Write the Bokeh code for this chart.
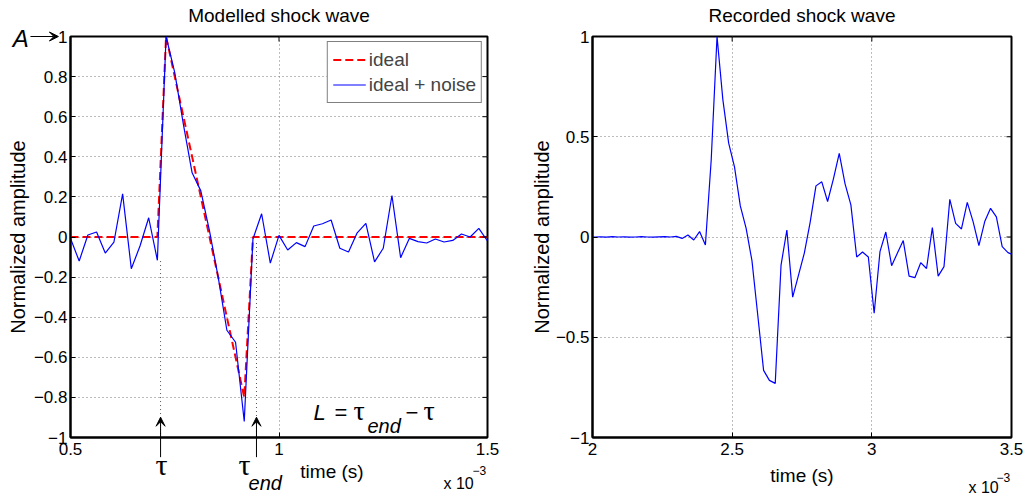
from bokeh.plotting import figure
from bokeh.layouts import row, column
from bokeh.models import (Range1d, FixedTicker, CustomJSTickFormatter, GridBox,
                          Label, Arrow, VeeHead, Legend, LegendItem)
from bokeh.embed import file_html
from bokeh.resources import INLINE

FS = 48000.0  # sampling rate (Hz)

# ---------------- data: modelled shock wave ----------------
model_samples = list(range(24, 73))          # sample indices (t = n / FS)
ideal = [0, 0, 0, 0, 0, 0, 0, 0, 0, 0, 0,
         1.0, 0.8, 0.6, 0.4, 0.2, 0.0, -0.2, -0.4, -0.6, -0.8,
         0, 0, 0, 0, 0, 0, 0, 0, 0, 0, 0, 0, 0, 0, 0, 0, 0, 0, 0, 0, 0, 0, 0, 0, 0, 0, 0, 0]
ideal_noise = [-0.007, -0.12, 0.01, 0.025, -0.08, -0.025, 0.215, -0.158, -0.045, 0.096, -0.116,
               1.0, 0.82, 0.56, 0.32, 0.23, 0.03, -0.2, -0.465, -0.525, -0.92,
               -0.01, 0.116, -0.13, 0.008, -0.065, -0.028, -0.048, 0.055, 0.066, 0.085,
               -0.056, -0.075, 0.021, 0.068, -0.124, -0.056, 0.207, -0.103, -0.007, -0.023,
               -0.03, -0.01, -0.025, -0.017, 0.015, 0.0, 0.043, -0.02]
tau = 0.716e-3
tau_end = 0.946e-3

# ---------------- data: recorded shock wave ----------------
rec_first_sample = 95.4
recorded = [0.0, 0.0, 0.001, -0.001, 0.002, 0.0, 0.001, -0.001, 0.0, 0.002, 0.0, -0.001,
            0.001, 0.002, 0.0, 0.003,
            -0.007, 0.01, -0.015, 0.027, -0.04,
            0.385, 1.0, 0.685, 0.468, 0.35, 0.155, 0.043, -0.118, -0.39, -0.665, -0.715,
            -0.73, -0.14, 0.035,
            -0.3, -0.19, -0.08, 0.073, 0.255, 0.275, 0.177, 0.29, 0.417, 0.265, 0.16,
            -0.1, -0.075, -0.1, -0.38, -0.073, 0.025, -0.143, -0.08, -0.018, -0.195,
            -0.203, -0.128, -0.157, 0.047, -0.195, -0.148, 0.188, 0.068, 0.04, 0.173,
            0.077, -0.043, 0.077, 0.143, 0.10, -0.048, -0.078, -0.09]

left_xrange = (0.5e-3, 1.5e-3)
right_xrange = (2.0e-3, 3.5e-3)
left_xticks = [0.5e-3, 1.0e-3, 1.5e-3]
left_yticks = [-1, -0.8, -0.6, -0.4, -0.2, 0, 0.2, 0.4, 0.6, 0.8, 1]
right_xticks = [2.0e-3, 2.5e-3, 3.0e-3, 3.5e-3]
right_yticks = [-1, -0.5, 0, 0.5, 1]

model_t = [n / FS for n in model_samples]
rec_t = [(rec_first_sample + i) / FS for i in range(len(recorded))]

FONT = "Liberation Sans"
SERIF = "Liberation Serif"
W, H = 1027, 499
TOP, BOTTOM = 36, 62
TICK = 5

yfmt_code = ("const v = Math.round(tick*10)/10; if (v === 0) return '0';"
             " return v < 0 ? '\\u2212' + String(-v) : String(v);")
xfmt_code = "const v = Math.round(tick*1e4)/10; return String(v);"


def make_fig(width, xr, xt, yt, bl, br, ylab_standoff):
    p = figure(width=width, height=H, x_range=Range1d(*xr), y_range=Range1d(-1, 1),
               output_backend="svg", toolbar_location=None, title=None,
               min_border_left=bl, min_border_right=br, min_border_top=TOP,
               min_border_bottom=BOTTOM)
    p.outline_line_color = "black"
    p.outline_line_width = 2

    xa = p.below[0]
    ya = p.left[0]
    xa.ticker = FixedTicker(ticks=xt)
    ya.ticker = FixedTicker(ticks=yt)
    xa.formatter = CustomJSTickFormatter(code=xfmt_code)
    ya.formatter = CustomJSTickFormatter(code=yfmt_code)
    for ax in (xa, ya):
        ax.major_label_text_font = FONT
        ax.major_label_text_font_size = "17px"
        ax.major_label_text_color = "black"
        ax.major_tick_in = TICK
        ax.major_tick_out = 0
        ax.minor_tick_line_color = None
        ax.axis_line_width = 2
        ax.axis_line_color = "black"
        ax.major_tick_line_color = "black"
        ax.axis_label_text_font = FONT
        ax.axis_label_text_font_style = "normal"
        ax.axis_label_text_color = "black"
    xa.major_label_standoff = 5
    ya.major_label_standoff = 3
    ya.axis_label = "Normalized amplitude"
    ya.axis_label_text_font_size = "20px"
    ya.axis_label_standoff = ylab_standoff

    for g, t in ((p.xgrid[0], xt), (p.ygrid[0], yt)):
        g.ticker = FixedTicker(ticks=t)
        g.grid_line_color = "#7a7a7a"
        g.grid_line_dash = "1 3"
        g.grid_line_width = 1
    return p


# ---------------- left figure ----------------
L_W, L_BL, L_BR = 526, 70, 39
p1 = make_fig(L_W, left_xrange, left_xticks, left_yticks, L_BL, L_BR, 2)

p1.segment(x0=[tau, tau_end], y0=[-0.12, -0.03], x1=[tau, tau_end], y1=[-1, -1],
           line_color="#555555", line_dash="1 3", line_width=1)
r_ideal = p1.line(model_t, ideal, line_color="#ff0000", line_width=2, line_dash="8 4")
r_noise = p1.line(model_t, ideal_noise, line_color="#0000ff", line_width=1.2)

leg = Legend(items=[LegendItem(label="ideal", renderers=[r_ideal]),
                    LegendItem(label="ideal + noise", renderers=[r_noise])],
             location="top_right", margin=5, padding=5, spacing=0,
             glyph_width=33, glyph_height=25, label_height=25, label_standoff=3,
             label_text_font=FONT, label_text_font_size="19px",
             border_line_color="black", border_line_width=1,
             background_fill_color="white", background_fill_alpha=1)
p1.add_layout(leg, "center")

# ---------------- right figure ----------------
R_W, R_BL, R_BR = 501, 66, 16
p2 = make_fig(R_W, right_xrange, right_xticks, right_yticks, R_BL, R_BR, 0)
p2.below[0].axis_label = "time (s)"
p2.below[0].axis_label_text_font_size = "19px"
p2.below[0].axis_label_standoff = 7
p2.line(rec_t, recorded, line_color="#0000ff", line_width=1.2)

# ---------------- annotation overlay (texts outside the plot frames) ----------------
FRAME_H = H - TOP - BOTTOM
L_FW = L_W - L_BL - L_BR
R_FW = R_W - R_BL - R_BR


def left_px(x, y):
    return (L_BL + (x - left_xrange[0]) / (left_xrange[1] - left_xrange[0]) * L_FW,
            TOP + (1 - y) / 2 * FRAME_H)


def right_px(x, y):
    return (L_W + R_BL + (x - right_xrange[0]) / (right_xrange[1] - right_xrange[0]) * R_FW,
            TOP + (1 - y) / 2 * FRAME_H)


ov = figure(width=W, height=H, x_range=Range1d(0, W), y_range=Range1d(H, 0),
            output_backend="svg", toolbar_location=None, title=None,
            x_axis_type=None, y_axis_type=None, min_border=0,
            background_fill_color=None, border_fill_color=None, outline_line_color=None)


def add_text(pos, text, size, font=FONT, style="normal", align="left"):
    ov.add_layout(Label(x=pos[0], y=pos[1], text=text, text_font=font, text_font_size=size,
                        text_font_style=style, text_align=align, text_baseline="middle",
                        text_color="black"))


def add_arrow(p0, p1_):
    ov.add_layout(Arrow(end=VeeHead(size=9, fill_color="black", line_color="black"),
                        x_start=p0[0], y_start=p0[1], x_end=p1_[0], y_end=p1_[1],
                        line_color="black", line_width=1))


# inward tick marks on the top and right edges of both boxes (MATLAB box style)
tx0, ty0, tx1, ty1 = [], [], [], []
for to_px, xr, xt, yt in ((left_px, left_xrange, left_xticks, left_yticks),
                          (right_px, right_xrange, right_xticks, right_yticks)):
    for xv in xt:
        px, py = to_px(xv, 1)
        tx0.append(px); ty0.append(py); tx1.append(px); ty1.append(py + TICK)
    for yv in yt:
        px, py = to_px(xr[1], yv)
        tx0.append(px); ty0.append(py); tx1.append(px - TICK); ty1.append(py)
ov.segment(x0=tx0, y0=ty0, x1=tx1, y1=ty1, line_color="black", line_width=1)

# titles
add_text(left_px(1.0e-3, 1.1027), "Modelled shock wave", "19px", align="center")
add_text(right_px(2.75e-3, 1.1027), "Recorded shock wave", "19px", align="center")
# A -> (peak amplitude)
add_text(left_px(0.381e-3, 0.99), "A", "24px", style="italic", align="center")
add_arrow(left_px(0.404e-3, 1.0), left_px(0.471e-3, 1.0))
# arrows marking tau and tau_end
add_arrow(left_px(tau, -1.098), left_px(tau, -0.899))
add_arrow(left_px(tau_end, -1.098), left_px(tau_end, -0.899))
add_text(left_px(0.7185e-3, -1.135), "τ", "30px", font=SERIF, align="center")
add_text(left_px(0.9175e-3, -1.135), "τ", "30px", font=SERIF, align="center")
add_text(left_px(0.9270e-3, -1.229), "end", "20px", style="italic")
# L = tau_end - tau
add_text(left_px(1.0827e-3, -0.877), "L", "22px", style="italic")
add_text(left_px(1.1331e-3, -0.877), "=", "22px")
add_text(left_px(1.1787e-3, -0.866), "τ", "28px", font=SERIF)
add_text(left_px(1.2122e-3, -0.945), "end", "20px", style="italic")
add_text(left_px(1.3034e-3, -0.877), "−", "22px")
add_text(left_px(1.3465e-3, -0.866), "τ", "28px", font=SERIF)
# x-axis label and exponent of the left plot
add_text(left_px(1.1271e-3, -1.172), "time (s)", "19px", align="center")
add_text(left_px(1.3945e-3, -1.231), "x 10", "16px")
add_text(left_px(1.4640e-3, -1.164), "−3", "12px")
# exponent of the right plot
add_text(right_px(3.3461e-3, -1.251), "x 10", "16px")
add_text(right_px(3.4463e-3, -1.199), "−3", "12px")

layout = GridBox(children=[(row(p1, p2), 0, 0), (column(ov), 0, 0)], spacing=0)
open("out.html", "w").write(file_html(layout, INLINE))
